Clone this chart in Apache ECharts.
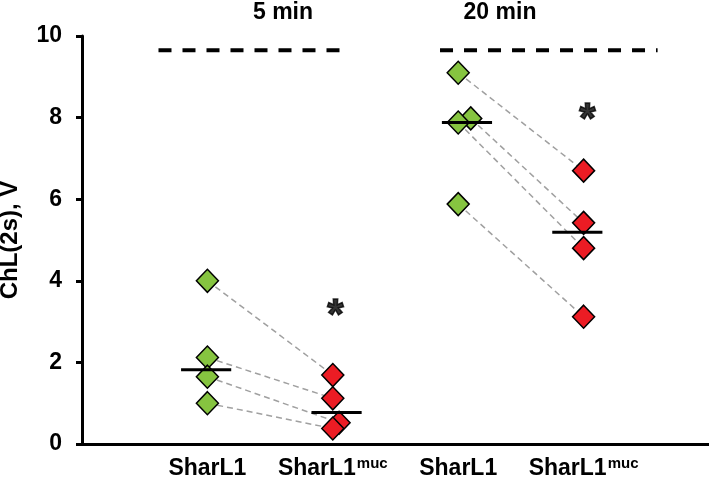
<!DOCTYPE html>
<html>
<head>
<meta charset="utf-8">
<script src="https://cdn.jsdelivr.net/npm/echarts@6/dist/echarts.min.js"></script>
<style>
  html, body { margin: 0; padding: 0; background: #fff; }
  #chart { width: 709px; height: 481px; }
</style>
</head>
<body>
<div id="chart"></div>
<script>
// Etiquetas
var groupNames = ['SharL1', 'SharL1muc', 'SharL1', 'SharL1muc'];
var timeLabels = ['5 min', '20 min'];

// Valores (x = grupo con pequeño desplazamiento)
var wt5 = [4.0, 2.12, 1.65, 1.0];
var wt5x = [1, 1, 1, 1];
var muc5 = [1.69, 1.12, 0.52, 0.38];
var muc5x = [2, 2, 2.05, 2];
var wt20 = [9.1, 7.98, 7.88, 5.88];
var wt20x = [3, 3.1, 3, 3];
var muc20 = [6.7, 5.42, 4.8, 3.12];
var muc20x = [4, 4, 4, 4];
var medians = [1.82, 0.77, 7.88, 5.19];
var medianX = [0.99, 2.03, 3.07, 3.95];
var maxLevel = 9.65;
var maxSpans = [[0.61, 2.08], [2.855, 4.59]];
var stars = [[2.02, 3.12], [4.03, 7.92]];

var chartDom = document.getElementById('chart');
var myChart = echarts.init(chartDom);

var font = 'Liberation Sans, Arial, sans-serif';
var green = '#86c440';
var red = '#ec1c24';

function pts(xs, ys) {
  return ys.map(function (v, i) { return [xs[i], v]; });
}

var series = [];

// Líneas grises que unen cada par
function addPairs(xa, ya, xb, yb) {
  ya.forEach(function (v, i) {
    series.push({
      type: 'line',
      data: [[xa[i], v], [xb[i], yb[i]]],
      symbol: 'none',
      silent: true,
      z: 1,
      lineStyle: { color: '#a0a0a0', width: 1.5, type: [6, 4] }
    });
  });
}
addPairs(wt5x, wt5, muc5x, muc5);
addPairs(wt20x, wt20, muc20x, muc20);

// Puntos
series.push({
  type: 'scatter',
  symbol: 'diamond',
  symbolSize: [22, 23],
  z: 3,
  itemStyle: { color: green, borderColor: '#000', borderWidth: 1.5, opacity: 1 },
  data: pts(wt5x, wt5).concat(pts(wt20x, wt20))
});
series.push({
  type: 'scatter',
  symbol: 'diamond',
  symbolSize: [22, 23],
  z: 3,
  itemStyle: { color: red, borderColor: '#000', borderWidth: 1.5, opacity: 1 },
  data: pts(muc5x, muc5).concat(pts(muc20x, muc20))
});

// Medianas
medians.forEach(function (m, i) {
  series.push({
    type: 'line',
    data: [[medianX[i] - 0.2, m], [medianX[i] + 0.2, m]],
    symbol: 'none',
    silent: true,
    z: 4,
    lineStyle: { color: '#000', width: 3 }
  });
});

// Nivel máximo (línea discontinua)
maxSpans.forEach(function (s) {
  series.push({
    type: 'line',
    data: [[s[0], maxLevel], [s[1], maxLevel]],
    symbol: 'none',
    silent: true,
    z: 2,
    lineStyle: { color: '#000', width: 4, type: [13, 11] }
  });
});

// Asteriscos
series.push({
  type: 'scatter',
  symbolSize: 1,
  itemStyle: { color: 'rgba(0,0,0,0)' },
  z: 5,
  label: {
    show: true,
    position: 'inside',
    formatter: '*',
    color: '#000',
    textBorderColor: '#000',
    textBorderWidth: 1.5,
    fontFamily: font,
    fontWeight: 'bold',
    fontSize: 42
  },
  data: stars
});

var option = {
  animation: false,
  grid: { left: 82, right: 0, top: 36, bottom: 37, containLabel: false, outerBoundsMode: 'none' },
  xAxis: {
    type: 'value',
    min: 0,
    max: 5,
    interval: 1,
    splitLine: { show: false },
    axisTick: { show: false },
    axisLine: { show: true, lineStyle: { color: '#000', width: 3 } },
    axisLabel: {
      margin: 12,
      formatter: function (v) {
        var n = groupNames[v - 1];
        if (!n) return '';
        if (n.slice(-3) === 'muc') return '{b|' + n.slice(0, -3) + '}{s|muc}';
        return '{b|' + n + '}';
      },
      rich: {
        b: { fontFamily: font, fontWeight: 'bold', fontSize: 23, color: '#000', lineHeight: 26 },
        s: { fontFamily: font, fontWeight: 'bold', fontSize: 15, color: '#000', verticalAlign: 'top', lineHeight: 26, padding: [0, 0, 9, 1] }
      }
    }
  },
  yAxis: {
    type: 'value',
    min: 0,
    max: 10,
    interval: 2,
    name: 'ChL(2s), V',
    nameLocation: 'middle',
    nameGap: 60,
    nameTextStyle: { fontFamily: font, fontWeight: 'bold', fontSize: 24, color: '#000' },
    splitLine: { show: false },
    axisLine: { show: true, lineStyle: { color: '#000', width: 3 } },
    axisTick: { show: true, length: 6, lineStyle: { color: '#000', width: 3 } },
    axisLabel: { margin: 20, fontFamily: font, fontWeight: 'bold', fontSize: 23, color: '#000' }
  },
  graphic: [
    { type: 'text', x: 283, y: 1, style: { text: timeLabels[0], align: 'center', fontFamily: font, fontWeight: 'bold', fontSize: 23, fill: '#000' } },
    { type: 'text', x: 500, y: 1, style: { text: timeLabels[1], align: 'center', fontFamily: font, fontWeight: 'bold', fontSize: 23, fill: '#000' } }
  ],
  series: series
};

myChart.setOption(option);
</script>
</body>
</html>
